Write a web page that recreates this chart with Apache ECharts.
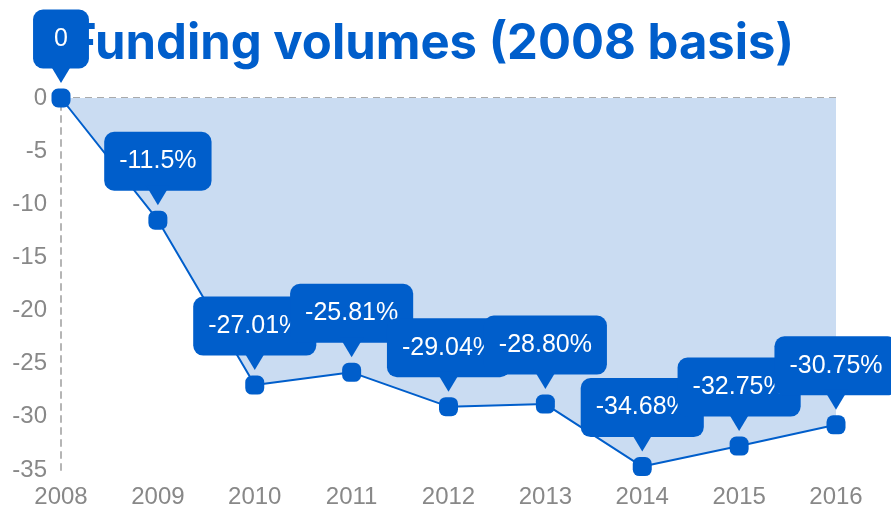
<!DOCTYPE html>
<html>
<head>
<meta charset="utf-8">
<script src="https://cdn.jsdelivr.net/npm/echarts@6/dist/echarts.min.js"></script>
<style>html,body{margin:0;padding:0;background:#fff}#c{width:891px;height:510px}</style>
</head>
<body>
<div id="c"></div>
<script>
const titleText = 'Funding volumes (2008 basis)';
const years = ['2008', '2009', '2010', '2011', '2012', '2013', '2014', '2015', '2016'];
const values = [0, -11.5, -27.01, -25.81, -29.04, -28.80, -34.68, -32.75, -30.75];
const labelTexts = ['0', '-11.5%', '-27.01%', '-25.81%', '-29.04%', '-28.80%', '-34.68%', '-32.75%', '-30.75%'];
const yTicks = { min: -35, max: 0, interval: 5 };

const BLUE = '#005ecb';
const chart = echarts.init(document.getElementById('c'), null, { renderer: 'canvas' });
const markerPath = 'path://M7,0 H13 A7,7 0 0 1 20,7 V13 A7,7 0 0 1 13,20 H7 A7,7 0 0 1 0,13 V7 A7,7 0 0 1 7,0 Z';

chart.setOption({
  animation: false,
  title: {
    text: titleText,
    left: 63,
    top: 15,
    z: 1,
    textStyle: { fontFamily: 'Inter', fontWeight: 'bold', fontSize: 49, color: BLUE }
  },
  grid: { left: 61, right: 55, top: 98, bottom: 40 },
  xAxis: {
    type: 'category',
    data: years,
    boundaryGap: false,
    axisLine: { show: false, onZero: false },
    axisTick: { show: false },
    axisLabel: { color: '#888', fontSize: 24, fontFamily: 'Liberation Sans', margin: 15 },
    splitLine: { show: false }
  },
  yAxis: {
    type: 'value',
    min: yTicks.min,
    max: yTicks.max,
    interval: yTicks.interval,
    axisLine: { show: true, lineStyle: { color: '#b5b5b5', width: 2, type: [6, 6] } },
    axisTick: { show: false },
    splitLine: { show: false },
    axisLabel: { color: '#888', fontSize: 24, fontFamily: 'Liberation Sans', margin: 14 }
  },
  series: [
    {
      type: 'line',
      data: values.map((v, i) => i === 0
        ? { value: v, label: { padding: [17, 21] } }
        : v),
      z: 10,
      symbol: markerPath,
      symbolSize: 19,
      lineStyle: { color: BLUE, width: 2 },
      itemStyle: { color: BLUE },
      areaStyle: { color: '#cadcf2', opacity: 1 },
      label: {
        show: true,
        position: 'top',
        distance: 20,
        formatter: p => labelTexts[p.dataIndex],
        color: '#fff',
        fontSize: 25,
        lineHeight: 25,
        fontFamily: 'Liberation Sans',
        backgroundColor: BLUE,
        borderRadius: 10,
        padding: [17, 15]
      },
      markLine: {
        silent: true,
        symbol: 'none',
        label: { show: false },
        lineStyle: { color: '#aaa', width: 2, type: [7, 5] },
        data: [{ yAxis: 0 }]
      }
    },
    {
      type: 'scatter',
      data: values,
      z: 11,
      symbol: 'path://M0,0 L24,0 L12,13 Z',
      symbolSize: [24, 20],
      symbolOffset: [0, -25],
      symbolKeepAspect: false,
      itemStyle: { color: BLUE, opacity: 1 },
      silent: true
    }
  ]
});
</script>
</body>
</html>
